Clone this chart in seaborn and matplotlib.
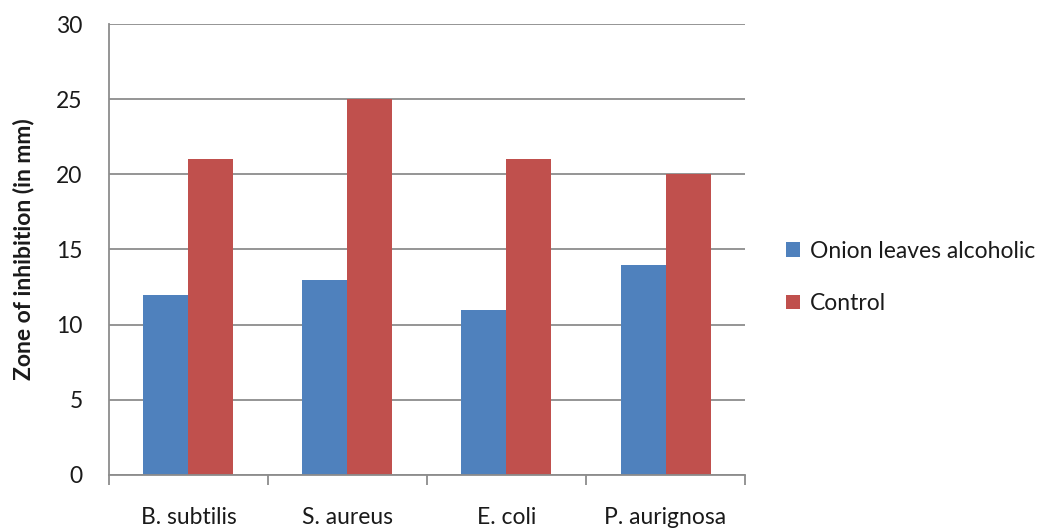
import matplotlib
matplotlib.use("Agg")
import matplotlib.pyplot as plt
import seaborn as sns
import pandas as pd
from matplotlib.ticker import FixedLocator

# Inhibition zone measurements (mm)
organisms = ["B. subtilis", "S. aureus", "E. coli", "P. aurignosa"]
series_names = ["Onion leaves alcoholic", "Control"]
extract_values = [12, 13, 11, 14]
control_values = [21, 25, 21, 20]
y_ticks = [0, 5, 10, 15, 20, 25, 30]

df = pd.DataFrame({
    "Organism": organisms * 2,
    "Series": [series_names[0]] * len(organisms) + [series_names[1]] * len(organisms),
    "Zone": extract_values + control_values,
})

sns.set_theme(style="white")
plt.rcParams["font.family"] = ["Lato", "DejaVu Sans"]

fig = plt.figure(figsize=(10.56, 5.31), dpi=100)
ax = fig.add_axes([0.1032, 0.1055, 0.6023, 0.8493])

sns.barplot(data=df, x="Organism", y="Zone", hue="Series", order=organisms,
            hue_order=series_names, palette=["#4F81BD", "#C0504D"],
            width=0.566, saturation=1, ax=ax, errorbar=None, linewidth=0)

grid_col = "#8c8c8c"
text_col = "#1a1a1a"
ax.set_ylim(0, 30)
ax.set_xlim(-0.5, len(organisms) - 0.5)
ax.set_yticks(y_ticks)
ax.yaxis.grid(True, color=grid_col, linewidth=1.3)
ax.set_axisbelow(True)
for s in ["top", "right"]:
    ax.spines[s].set_visible(False)
for s in ["left", "bottom"]:
    ax.spines[s].set_color(grid_col)
    ax.spines[s].set_linewidth(1.3)

ax.tick_params(axis="y", which="major", length=7, width=1.3, color=grid_col,
               labelsize=16.5, pad=12, labelcolor=text_col)
ax.tick_params(axis="x", which="major", length=0, labelsize=16.5, pad=23,
               labelcolor=text_col)
ax.xaxis.set_minor_locator(FixedLocator([i - 0.5 for i in range(len(organisms) + 1)]))
ax.tick_params(axis="x", which="minor", length=7, width=1.3, color=grid_col,
               direction="out", bottom=True)

ax.set_xlabel("")
ax.set_ylabel("Zone of inhibition (in mm)", fontsize=16.5, fontweight="bold",
              labelpad=16, color=text_col)

leg = ax.legend(loc="center left", bbox_to_anchor=(1.032, 0.438), frameon=False,
                fontsize=16.5, handlelength=0.6, handleheight=0.6,
                handletextpad=0.45, labelspacing=1.38)
for t in leg.get_texts():
    t.set_color(text_col)

fig.savefig("out.png", dpi=100)
